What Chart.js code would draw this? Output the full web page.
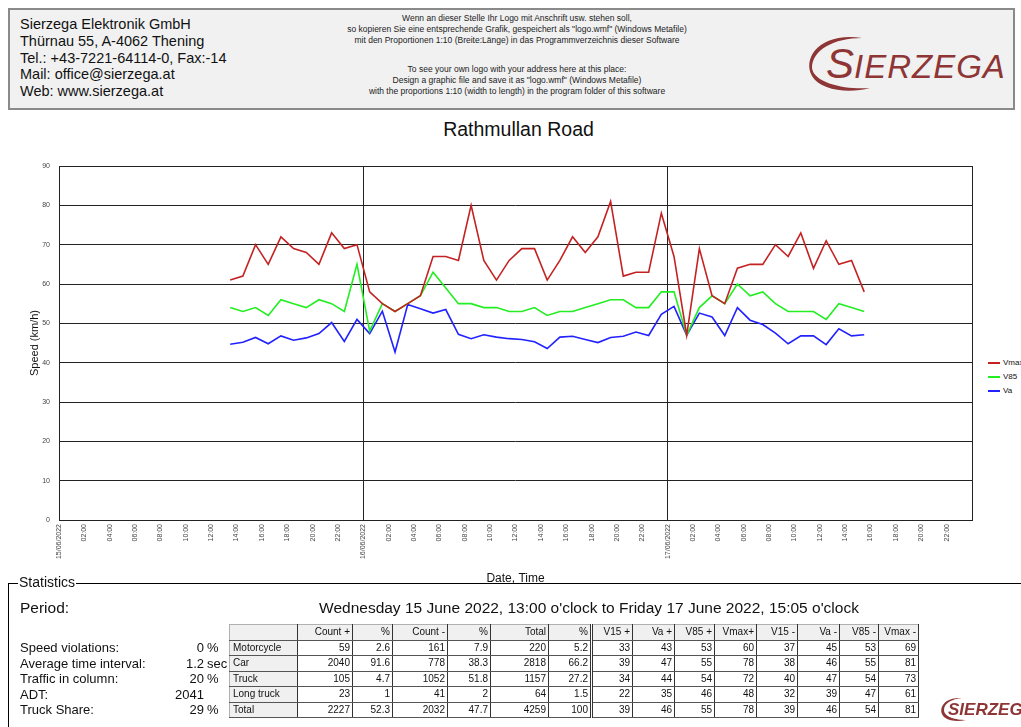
<!DOCTYPE html>
<html>
<head>
<meta charset="utf-8">
<script src="https://cdn.jsdelivr.net/npm/chart.js@4.4.1/dist/chart.umd.min.js"></script>
<style>
  body { margin: 0; width: 1021px; height: 727px; overflow: hidden; background: #fff;
         font-family: "Liberation Sans", Arial, sans-serif; color: #111; position: relative; }
  .abs { position: absolute; }
  #header { left: 8px; top: 8px; width: 1003px; height: 98px; background: #f1f1f1; border: 2px solid #8a8a8a; }
  #addr { left: 20px; top: 16px; font-size: 14.5px; line-height: 16.8px; }
  .note { left: 250px; width: 534px; text-align: center; font-size: 8.5px; line-height: 11.2px; color: #222; }
  #title { left: 0; width: 1037px; top: 118px; text-align: center; font-size: 19.5px; }
  #chartBox { left: 0; top: 150px; width: 985px; height: 436px; }
  .leg { left: 988px; font-size: 8px; height: 10px; line-height: 10px; white-space: nowrap; }
  .leg span { display: inline-block; width: 12px; height: 0; border-top: 2px solid; vertical-align: middle; margin-right: 3px; }
  #stats { left: 8px; top: 583px; width: 1030px; height: 160px; border-top: 1px solid #000; border-left: 1px solid #000; }
  #statsLbl { left: 18px; top: 574px; font-size: 14px; background: #fff; padding: 0 1px; }
  #period { left: 20px; top: 599px; font-size: 15.5px; }
  #periodTxt { left: 300px; width: 578px; top: 599px; font-size: 15.5px; text-align: center; white-space: nowrap; }
  .sl { left: 20px; font-size: 13px; line-height: 15.5px; }
  .sv { left: 150px; width: 54px; text-align: right; font-size: 13px; line-height: 15.5px; }
  .su { left: 207px; font-size: 13px; line-height: 15.5px; }
  table { position: absolute; left: 229px; top: 624px; border-collapse: collapse; table-layout: fixed; font-size: 10px; }
  td { height: 14.5px; line-height: 14.5px; padding: 0 2px 0 0; text-align: right; background: #fff;
       border: 1px solid #b0b0b0; border-right: 1px solid #333; border-bottom: 1px solid #555; overflow: hidden; white-space: nowrap; }
  tr.hd td { background: #f0f0f0; }
  td.lb { background: #f0f0f0; text-align: left; padding-left: 3px; }
  td.dbl { border-left: 3px double #333; }
</style>
</head>
<body>
<div id="header" class="abs"></div>
<div id="addr" class="abs">Sierzega Elektronik GmbH<br>Thürnau 55, A-4062 Thening<br>Tel.: +43-7221-64114-0, Fax:-14<br>Mail: office@sierzega.at<br>Web: www.sierzega.at</div>
<div class="abs note" style="top:13px">Wenn an dieser Stelle Ihr Logo mit Anschrift usw. stehen soll,<br>so kopieren Sie eine entsprechende Grafik, gespeichert als "logo.wmf" (Windows Metafile)<br>mit den Proportionen 1:10 (Breite:Länge) in das Programmverzeichnis dieser Software</div>
<div class="abs note" style="top:64px">To see your own logo with your address here at this place:<br>Design a graphic file and save it as "logo.wmf" (Windows Metafile)<br>with the proportions 1:10 (width to length) in the program folder of this software</div>
<svg class="abs" style="left:800px;top:28px" width="210" height="70">
  <path d="M62 10 C 20 4, 2 30, 12 48 C 20 62, 48 66, 70 60 C 48 62, 14 56, 12 40 C 12 22, 34 10, 62 10 Z" fill="#8e3535"/>
  <text x="26" y="50" font-family="Liberation Sans, Arial" font-style="italic" font-size="42" fill="#8e3535">S</text>
  <text x="54" y="50" font-family="Liberation Sans, Arial" font-style="italic" font-size="33" letter-spacing="1" fill="#8e3535">IERZEGA</text>
</svg>
<div id="title" class="abs">Rathmullan Road</div>
<div id="chartBox" class="abs"><canvas id="myChart" width="985" height="436"></canvas></div>
<div class="abs leg" style="top:358px"><span style="border-color:#c42222"></span>Vmax</div>
<div class="abs leg" style="top:372px"><span style="border-color:#22ee22"></span>V85</div>
<div class="abs leg" style="top:386px"><span style="border-color:#2222ff"></span>Va</div>

<div id="stats" class="abs"></div>
<div id="statsLbl" class="abs">Statistics</div>
<div id="period" class="abs">Period:</div>
<div id="periodTxt" class="abs">Wednesday 15 June 2022, 13:00 o'clock to Friday 17 June 2022, 15:05 o'clock</div>
<div id="statLeft"></div>
<table id="tbl"></table>
<svg class="abs" style="left:938px;top:694px" width="90" height="30">
  <path d="M24 4 C 8 3, 1 12, 4 20 C 7 27, 18 28, 28 26 C 18 26, 6 23, 6 16 C 6 9, 14 5, 24 4 Z" fill="#8e3535"/>
  <text x="10" y="21" font-family="Liberation Sans, Arial" font-style="italic" font-weight="bold" font-size="17" fill="#8e3535">SIERZEGA</text>
</svg>

<script>
// speeds per hour, 15/06 13:00 .. 17/06 15:00
const startHour = 13.5;
const vmax = [61,62,70,65,72,69,68,65,73,69,70,58,55,53,55,57,67,67,66,80,66,61,66,69,69,61,66,72,68,72,81,62,63,63,78,67,47,69,57,55,64,65,65,70,67,73,64,71,65,66,58];
const v85 = [54,53,54,52,56,55,54,56,55,53,65,48,55,53,55,57,63,59,55,55,54,54,53,53,54,52,53,53,54,55,56,56,54,54,58,58,47,54,57,55,60,57,58,55,53,53,53,51,55,54,53];
const va = [44.7,45.2,46.4,44.8,46.8,45.7,46.3,47.4,50.2,45.4,51.0,47.4,53.1,42.7,54.8,53.7,52.6,53.5,47.2,46.1,47.1,46.5,46.1,45.9,45.3,43.6,46.5,46.7,45.9,45.1,46.4,46.7,47.8,46.9,52.3,54.3,47.0,52.6,51.6,46.9,54.0,50.8,49.7,47.5,44.8,46.8,46.8,44.6,48.6,46.8,47.1];
const days = ['15/06/2022', '16/06/2022', '17/06/2022'];
const yTicks = [0,10,20,30,40,50,60,70,80,90];

// statistics
const statLabels = ['Speed violations:', 'Average time interval:', 'Traffic in column:', 'ADT:', 'Truck Share:'];
const statValues = ['0', '1.2', '20', '2041', '29'];
const statUnits = ['%', 'sec', '%', '', '%'];
const colHeads = ['', 'Count +', '%', 'Count -', '%', 'Total', '%', 'V15 +', 'Va +', 'V85 +', 'Vmax+', 'V15 -', 'Va -', 'V85 -', 'Vmax -'];
const colWidths = [68,55,40,55,43,58,43,41,42,40,42,41,42,39,40];
const vehicleTypes = ['Motorcycle', 'Car', 'Truck', 'Long truck', 'Total'];
const rows = [
  [59, 2.6, 161, 7.9, 220, 5.2, 33, 43, 53, 60, 37, 45, 53, 69],
  [2040, 91.6, 778, 38.3, 2818, 66.2, 39, 47, 55, 78, 38, 46, 55, 81],
  [105, 4.7, 1052, 51.8, 1157, 27.2, 34, 44, 54, 72, 40, 47, 54, 73],
  [23, 1, 41, 2, 64, 1.5, 22, 35, 46, 48, 32, 39, 47, 61],
  [2227, 52.3, 2032, 47.7, 4259, 100, 39, 46, 55, 78, 39, 46, 54, 81]
];

// left stats block
const statLeft = document.getElementById('statLeft');
statLabels.forEach((lbl, i) => {
  const top = 640 + i * 15.5;
  statLeft.insertAdjacentHTML('beforeend',
    `<div class="abs sl" style="top:${top}px">${lbl}</div>` +
    `<div class="abs sv" style="top:${top}px">${statValues[i]}</div>` +
    `<div class="abs su" style="top:${top}px">${statUnits[i]}</div>`);
});

// table
const tbl = document.getElementById('tbl');
let html = '<colgroup>' + colWidths.map(w => `<col style="width:${w}px">`).join('') + '</colgroup>';
html += '<tr class="hd">' + colHeads.map((h, i) => `<td class="${i === 7 ? 'dbl' : ''}">${h}</td>`).join('') + '</tr>';
rows.forEach((r, ri) => {
  html += `<tr><td class="lb">${vehicleTypes[ri]}</td>` +
    r.map((v, i) => `<td class="${i === 6 ? 'dbl' : ''}">${v}</td>`).join('') + '</tr>';
});
tbl.innerHTML = html;

// chart
const toPoints = arr => arr.map((v, i) => ({ x: startHour + i, y: v }));

const frame = {
  id: 'frame',
  afterDraw(chart) {
    const { ctx, chartArea: a } = chart;
    ctx.save();
    ctx.strokeStyle = '#222';
    ctx.lineWidth = 1;
    ctx.strokeRect(a.left + 0.5, a.top + 0.5, a.right - a.left, a.bottom - a.top);
    ctx.restore();
  }
};

const ctx = document.getElementById('myChart').getContext('2d');
const myChart = new Chart(ctx, {
  type: 'line',
  data: {
    datasets: [
      { label: 'Vmax', data: toPoints(vmax), borderColor: '#c42222', borderWidth: 1.6 },
      { label: 'V85', data: toPoints(v85), borderColor: '#22ee22', borderWidth: 1.6 },
      { label: 'Va', data: toPoints(va), borderColor: '#2222ff', borderWidth: 1.6 }
    ]
  },
  options: {
    responsive: false,
    animation: false,
    events: [],
    elements: { point: { radius: 0 }, line: { tension: 0 } },
    layout: { padding: { left: 0, right: 13, top: 16, bottom: 0 } },
    plugins: { legend: { display: false }, tooltip: { enabled: false } },
    scales: {
      x: {
        type: 'linear',
        min: 0,
        max: 72,
        afterFit: s => { s.height = 66; },
        border: { display: false },
        grid: {
          drawTicks: false,
          color: c => (c.tick.value % 24 === 0 ? '#222' : 'rgba(0,0,0,0)'),
          lineWidth: 1
        },
        ticks: {
          stepSize: 2,
          autoSkip: false,
          minRotation: 90,
          maxRotation: 90,
          padding: 4,
          color: '#444',
          font: { family: 'Liberation Sans', size: 7 },
          callback: v => {
            if (v >= 72) return null;
            if (v % 24 === 0) return days[v / 24];
            const h = v % 24;
            return (h < 10 ? '0' : '') + h + ':00';
          }
        },
        title: { display: true, text: 'Date, Time', color: '#111', padding: 0,
                 font: { family: 'Liberation Sans', size: 12 } }
      },
      y: {
        min: 0,
        max: 90,
        afterFit: s => { s.width = 59; },
        afterBuildTicks: s => { s.ticks = yTicks.map(v => ({ value: v })); },
        border: { display: false },
        grid: { drawTicks: false, color: '#222', lineWidth: 1 },
        ticks: { padding: 9, color: '#444', font: { family: 'Liberation Sans', size: 7 } },
        title: { display: true, text: 'Speed (km/h)', color: '#111', padding: { top: 28 },
                 font: { family: 'Liberation Sans', size: 11 } }
      }
    }
  },
  plugins: [frame]
});
</script>
</body>
</html>
